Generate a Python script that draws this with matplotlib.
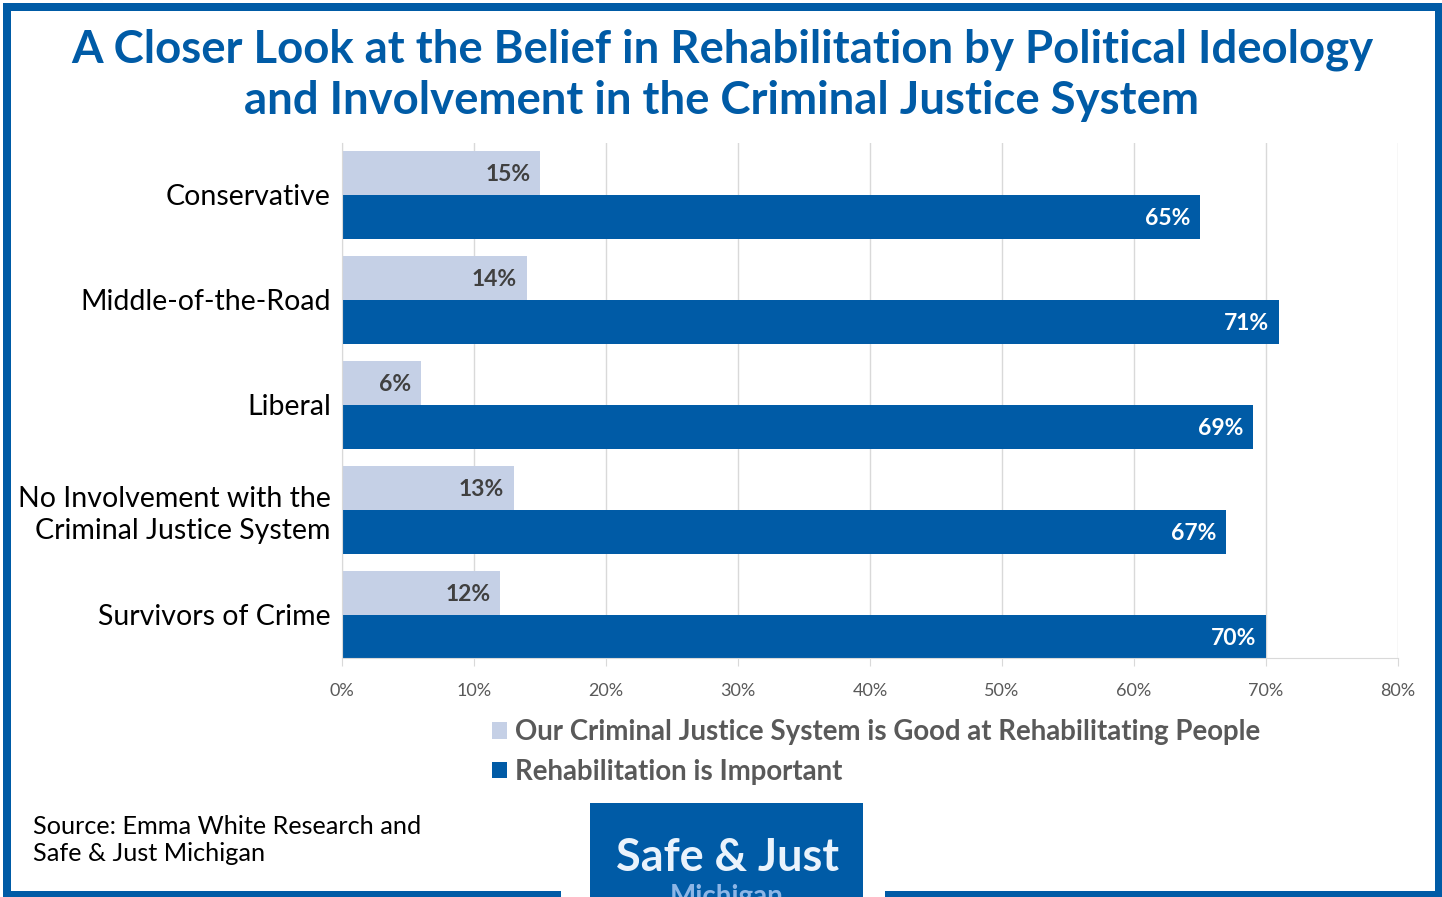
import matplotlib
matplotlib.use("Agg")
import matplotlib.pyplot as plt
from matplotlib.patches import Rectangle
import numpy as np

# survey results, percent
categories = ["Conservative", "Middle-of-the-Road", "Liberal",
              "No Involvement with the\nCriminal Justice System", "Survivors of Crime"]
good_at_rehab = [15, 14, 6, 13, 12]
rehab_important = [65, 71, 69, 67, 70]
xticks = [0, 10, 20, 30, 40, 50, 60, 70, 80]
series_names = ["Our Criminal Justice System is Good at Rehabilitating People",
                "Rehabilitation is Important"]

BLUE = "#005BA6"
LIGHT = "#C5D0E6"
GRAY = "#595959"
FONT = "Lato"

W, H = 1442, 897
fig = plt.figure(figsize=(W / 100, H / 100), dpi=100)
fig.patch.set_facecolor("white")

ax = fig.add_axes([342 / W, 1 - 658 / H, (1398 - 342) / W, (658 - 143) / H])

y = np.arange(len(categories))
h = 0.42
b1 = ax.barh(y - h / 2, good_at_rehab, height=h, color=LIGHT, zorder=2, label=series_names[0])
b2 = ax.barh(y + h / 2, rehab_important, height=h, color=BLUE, zorder=2, label=series_names[1])

for yy, v in zip(y, good_at_rehab):
    ax.annotate(f"{v}%", (v, yy - h / 2), xytext=(-7, -1), textcoords="offset points",
                ha="right", va="center", fontsize=16.5, fontweight="bold",
                color="#404040", family=FONT, zorder=3)
for yy, v in zip(y, rehab_important):
    ax.annotate(f"{v}%", (v, yy + h / 2), xytext=(-7, -1), textcoords="offset points",
                ha="right", va="center", fontsize=16.5, fontweight="bold",
                color="white", family=FONT, zorder=3)

ax.set_xlim(0, 80)
ax.set_ylim(len(categories) - 1 + 0.41, -0.495)
ax.set_xticks(xticks)
ax.set_xticklabels([f"{t}%" for t in xticks], fontsize=13, color=GRAY, family=FONT)
ax.set_yticks(y)
ax.set_yticklabels(categories, fontsize=20.5, color="black", family=FONT,
                   linespacing=1.25)
ax.tick_params(axis="y", length=0, pad=8)
ax.tick_params(axis="x", length=6, color="#D9D9D9", pad=12)
ax.grid(axis="x", color="#D9D9D9", linewidth=1, zorder=0)
for s in ["top", "right"]:
    ax.spines[s].set_visible(False)
ax.spines["left"].set_color("#D9D9D9")
ax.spines["bottom"].set_color("#D9D9D9")

fig.text(722 / W, 1 - 50 / H, "A Closer Look at the Belief in Rehabilitation by Political Ideology",
         ha="center", va="center", fontsize=32.8, fontweight="bold", color=BLUE, family=FONT)
fig.text(722 / W, 1 - 101 / H, "and Involvement in the Criminal Justice System",
         ha="center", va="center", fontsize=32.8, fontweight="bold", color=BLUE, family=FONT)

leg = fig.legend(handles=[b1, b2], loc="upper left", bbox_to_anchor=(492 / W, 1 - 719 / H),
                 frameon=False, handlelength=0.55, handleheight=0.55, handletextpad=0.3,
                 labelspacing=0.5, borderpad=0, borderaxespad=0,
                 prop={"family": FONT, "weight": "bold", "size": 19.9}, labelcolor=GRAY)

fig.text(33 / W, 1 - 840 / H, "Source: Emma White Research and\nSafe & Just Michigan",
         ha="left", va="center", fontsize=18.2, color="black", family=FONT, linespacing=1.2)

# frame and logo box in pixel coordinates
deco = fig.add_axes([0, 0, 1, 1], zorder=5)
deco.set_xlim(0, W)
deco.set_ylim(H, 0)
deco.axis("off")
deco.patch.set_alpha(0)
for x0, y0, w, hh in [(3, 3, W - 3, 8), (3, 3, 8, H), (1435, 3, 7, H),
                      (3, 891, 558, 6), (885, 891, W - 885, 6)]:
    deco.add_patch(Rectangle((x0, y0), w, hh, color=BLUE, lw=0))
deco.add_patch(Rectangle((590, 803), 273, 100, color=BLUE, lw=0))
deco.text(727, 858, "Safe & Just", ha="center", va="center", fontsize=32.4,
          fontweight="bold", color="#EAF3FC", family=FONT)
deco.text(727, 897, "Michigan", ha="center", va="center", fontsize=20,
          fontweight="bold", color="#8DB6E6", family=FONT)

fig.savefig("out.png", dpi=100)
